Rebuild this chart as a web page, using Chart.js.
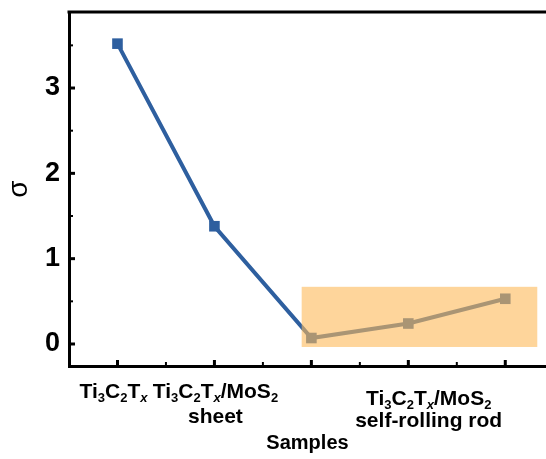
<!DOCTYPE html>
<html>
<head>
<meta charset="utf-8">
<script src="https://cdn.jsdelivr.net/npm/chart.js@4"></script>
<style>
  html, body { margin: 0; padding: 0; background: #fff; }
  #wrap { width: 546px; height: 459px; }
</style>
</head>
<body>
<div id="wrap"><canvas id="chart"></canvas></div>
<script>
// data
const sampleIdx = [0, 1, 2, 3, 4];
const sigma = [3.52, 1.38, 0.07, 0.24, 0.53];
const yTicks = [0, 1, 2, 3];
const yMinor = [0.5, 1.5, 2.5, 3.5];
const xMinor = [0.5, 1.5, 2.5, 3.5];
// "_c" = subscript char, x subscript is italic
const tickLabels = [
  ['Ti_3C_2T_x'],
  ['Ti_3C_2T_x/MoS_2', 'sheet'],
  [], [], []
];
const groupLabel = ['Ti_3C_2T_x/MoS_2', 'self-rolling rod'];  // for points 2-4
const rodBox = [1.9, 4.33, -0.035, 0.67];  // x0, x1, y0, y1 (data units)

const FONT = '"Liberation Sans", Arial, sans-serif';
const blue = '#2e5f9f';

function parseRich(str) {
  const segs = [];
  let buf = '';
  for (let i = 0; i < str.length; i++) {
    if (str[i] === '_' && i + 1 < str.length) {
      if (buf) { segs.push({ t: buf, sub: false }); buf = ''; }
      segs.push({ t: str[i + 1], sub: true, it: str[i + 1] === 'x' });
      i++;
    } else {
      buf += str[i];
    }
  }
  if (buf) segs.push({ t: buf, sub: false });
  return segs;
}

function drawRich(ctx, str, cx, baseY) {
  const segs = parseRich(str);
  const fontFor = s => s.sub ? ((s.it ? 'italic ' : '') + 'bold 13px ' + FONT) : 'bold 21px ' + FONT;
  let total = 0;
  segs.forEach(s => { ctx.font = fontFor(s); s.w = ctx.measureText(s.t).width; total += s.w; });
  let x = cx - total / 2;
  segs.forEach(s => {
    ctx.font = fontFor(s);
    ctx.fillText(s.t, x, baseY + (s.sub ? 4 : 0));
    x += s.w;
  });
}

const framePlugin = {
  id: 'frame',
  afterDatasetsDraw(chart) {
    const { ctx, scales: { x, y } } = chart;
    const x0 = x.getPixelForValue(rodBox[0]), x1 = x.getPixelForValue(rodBox[1]);
    const y0 = y.getPixelForValue(rodBox[2]), y1 = y.getPixelForValue(rodBox[3]);
    ctx.save();
    ctx.fillStyle = 'rgba(253, 185, 88, 0.6)';
    ctx.fillRect(x0, y1, x1 - x0, y0 - y1);
    ctx.restore();
  },
  afterDraw(chart) {
    const { ctx, chartArea: a, scales: { x, y } } = chart;
    ctx.save();
    ctx.strokeStyle = '#000';
    // top frame line
    ctx.lineWidth = 3;
    ctx.beginPath();
    ctx.moveTo(a.left - 1.5, a.top);
    ctx.lineTo(a.right, a.top);
    ctx.stroke();
    // inward ticks
    const tick = (x1, y1, x2, y2, w) => {
      ctx.lineWidth = w;
      ctx.beginPath(); ctx.moveTo(x1, y1); ctx.lineTo(x2, y2); ctx.stroke();
    };
    yTicks.forEach(v => { const p = y.getPixelForValue(v); tick(a.left, p, a.left + 6, p, 3); });
    yMinor.forEach(v => { const p = y.getPixelForValue(v); tick(a.left, p, a.left + 4, p, 2); });
    sampleIdx.forEach(v => { const p = x.getPixelForValue(v); tick(p, a.bottom, p, a.bottom - 6, 3); });
    xMinor.forEach(v => { const p = x.getPixelForValue(v); tick(p, a.bottom, p, a.bottom - 4, 2); });

    // category labels
    ctx.fillStyle = '#000';
    ctx.textBaseline = 'alphabetic';
    ctx.textAlign = 'left';
    tickLabels.forEach((lines, i) => {
      const cx = x.getPixelForValue(i) + (i === 0 ? -4 : 1);
      lines.forEach((ln, j) => drawRich(ctx, ln, cx, a.bottom + 32 + j * 25));
    });
    const gx = x.getPixelForValue(3.21);
    groupLabel.forEach((ln, j) => drawRich(ctx, ln, gx, a.bottom + 39 + j * 22));
    ctx.restore();
  }
};

new Chart(document.getElementById('chart'), {
  type: 'line',
  data: {
    datasets: [{
      label: 'σ',
      data: sampleIdx.map((v, i) => ({ x: v, y: sigma[i] })),
      borderColor: blue,
      backgroundColor: blue,
      borderWidth: 4,
      pointStyle: 'rect',
      pointRadius: 7.5,
      pointBorderWidth: 0,
      tension: 0
    }]
  },
  options: {
    responsive: true,
    maintainAspectRatio: false,
    devicePixelRatio: 1,
    animation: false,
    layout: { autoPadding: false, padding: { top: 12, right: 0, left: 0, bottom: 0 } },
    plugins: { legend: { display: false }, tooltip: { enabled: false } },
    scales: {
      x: {
        type: 'linear',
        min: -0.5,
        max: 4.42,
        afterBuildTicks: s => { s.ticks = sampleIdx.map(v => ({ value: v })); },
        afterFit: s => { s.height = 93; s.paddingLeft = 0; s.paddingRight = 0; },
        grid: { display: false, drawTicks: false },
        border: { display: true, color: '#000', width: 3 },
        ticks: { display: false },
        title: {
          display: true,
          text: 'Samples',
          color: '#000',
          font: { family: FONT, size: 20, weight: 'bold' },
          padding: { top: 0, bottom: 4 }
        }
      },
      y: {
        min: -0.258,
        max: 3.891,
        afterBuildTicks: s => { s.ticks = yTicks.map(v => ({ value: v })); },
        afterFit: s => { s.width = 69; s.paddingTop = 0; s.paddingBottom = 0; },
        grid: { display: false, drawTicks: false },
        border: { display: true, color: '#000', width: 3 },
        ticks: {
          color: '#000',
          padding: 9,
          font: { family: FONT, size: 27, weight: 'bold' }
        },
        title: {
          display: true,
          text: 'σ',
          color: '#000',
          font: { family: FONT, size: 28, weight: 'normal' },
          padding: { top: 2, bottom: 0 }
        }
      }
    }
  },
  plugins: [framePlugin]
});
</script>
</body>
</html>
